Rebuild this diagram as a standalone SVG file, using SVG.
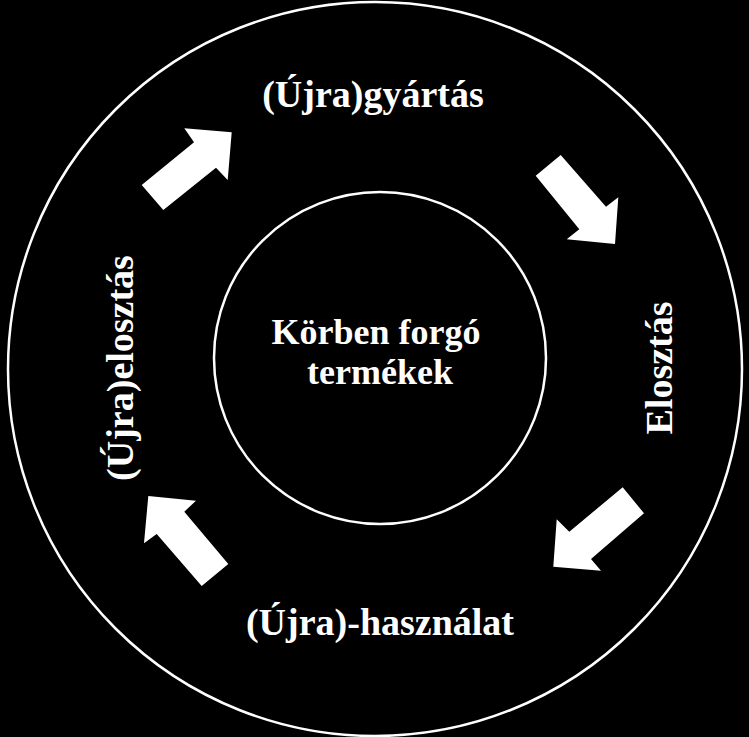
<svg xmlns="http://www.w3.org/2000/svg" width="749" height="737" viewBox="0 0 749 737">
<style>
.ring{fill:none;stroke:#fff;stroke-width:2.5}
.arrow{fill:#fff;stroke:none}
.lbl{font-family:'Liberation Serif','Times New Roman',Times,serif;font-weight:bold;fill:#fff;text-anchor:middle}
</style>
<rect width="749" height="737" fill="#000"/>
<g id="outer-ring"><circle class="ring" cx="375" cy="369" r="367"/></g>
<g id="center-node">
<circle class="ring" cx="380" cy="358" r="166" stroke-width="3"/>
<text class="lbl" font-family="Liberation Serif, serif" font-size="36" x="376" y="344">Körben forgó</text>
<text class="lbl" font-family="Liberation Serif, serif" font-size="36" x="380" y="384">termékek</text>
</g>
<g id="node-gyartas"><text class="lbl" font-family="Liberation Serif, serif" font-size="38" x="373" y="107">(Újra)gyártás</text></g>
<g id="node-elosztas"><text class="lbl" font-family="Liberation Serif, serif" font-size="38" transform="translate(672,368) rotate(-90)">Elosztás</text></g>
<g id="node-hasznalat"><text class="lbl" font-family="Liberation Serif, serif" font-size="38" x="380" y="635">(Újra)-használat</text></g>
<g id="node-ujraelosztas"><text class="lbl" font-family="Liberation Serif, serif" font-size="38" transform="translate(133,368) rotate(-90)">(Újra)elosztás</text></g>
<g id="connectors">
<polygon class="arrow" points="141.7,185 194,142.3 184.3,128.3 231.7,132.3 227.7,180 216,167.7 163.3,210"/>
<polygon class="arrow" points="560.7,155 606,206.7 618.3,197.3 615,244 566.7,239.3 579.3,229.3 535.7,175.7"/>
<polygon class="arrow" points="622.7,487.3 569.3,531.7 556.7,519.3 553.3,566.7 601,570.7 591,559 644,513.3"/>
<polygon class="arrow" points="228.3,564 184.3,511.7 196,500.7 148.3,496 144,543.3 156.7,534 201.7,586"/>
</g>
</svg>
